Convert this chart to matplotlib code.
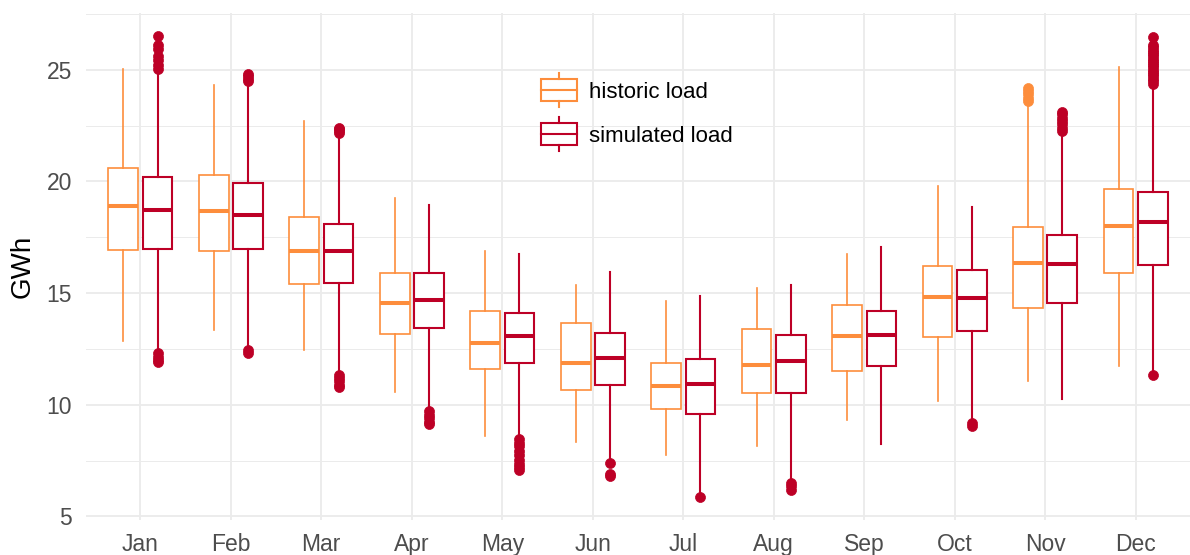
import numpy as np
import matplotlib
matplotlib.use('Agg')
import matplotlib.pyplot as plt
from matplotlib.legend_handler import HandlerBase
from matplotlib.patches import Rectangle
from matplotlib.lines import Line2D

plt.rcParams['font.family'] = ['Liberation Sans', 'DejaVu Sans']

months = ['Jan', 'Feb', 'Mar', 'Apr', 'May', 'Jun', 'Jul', 'Aug', 'Sep', 'Oct', 'Nov', 'Dec']

# historic load box stats (GWh)
hist_hi = [25.05, 24.33, 22.7, 19.24, 16.89, 15.37, 14.65, 15.24, 16.73, 19.81, 23.4, 25.13]
hist_q3 = [20.59, 20.27, 18.41, 15.9, 14.21, 13.65, 11.87, 13.38, 14.48, 16.22, 17.97, 19.65]
hist_med = [18.92, 18.68, 16.87, 14.56, 12.78, 11.87, 10.84, 11.78, 13.1, 14.81, 16.35, 18.02]
hist_q1 = [16.94, 16.89, 15.4, 13.17, 11.59, 10.68, 9.81, 10.52, 11.5, 13.02, 14.32, 15.9]
hist_lo = [12.86, 13.33, 12.46, 10.56, 8.6, 8.33, 7.75, 8.17, 9.32, 10.19, 11.08, 11.75]
hist_out = [[], [], [], [], [], [], [], [], [], [],
            [23.6, 23.75, 23.9, 24.05, 24.2], []]

# simulated load box stats (GWh)
sim_hi = [24.9, 24.3, 22.0, 18.95, 16.73, 15.95, 14.89, 15.37, 17.05, 18.86, 22.1, 24.2]
sim_q3 = [20.19, 19.95, 18.1, 15.9, 14.13, 13.22, 12.03, 13.14, 14.21, 16.03, 17.62, 19.52]
sim_med = [18.73, 18.48, 16.87, 14.68, 13.1, 12.1, 10.95, 11.94, 13.14, 14.76, 16.32, 18.17]
sim_q1 = [16.98, 16.98, 15.46, 13.44, 11.87, 10.9, 9.6, 10.52, 11.75, 13.3, 14.56, 16.27]
sim_lo = [12.4, 12.55, 11.5, 9.8, 8.65, 7.5, 6.0, 6.65, 8.25, 9.35, 10.24, 11.5]
sim_out = [
    [26.5, 26.1, 25.95, 25.6, 25.45, 25.2, 25.05, 12.3, 12.15, 12.0, 11.9],
    [24.5, 24.6, 24.7, 24.8, 12.45, 12.3],
    [22.15, 22.25, 22.35, 22.4, 11.35, 11.2, 11.05, 10.9, 10.8],
    [9.7, 9.55, 9.4, 9.25, 9.15],
    [8.45, 8.3, 8.15, 7.95, 7.75, 7.55, 7.35, 7.2, 7.08],
    [7.4, 6.9, 6.82],
    [5.87],
    [6.5, 6.35, 6.2],
    [],
    [9.2, 9.05],
    [22.25, 22.4, 22.55, 22.7, 22.85, 23.0, 23.1],
    [24.35, 24.5, 24.6, 24.7, 24.8, 24.9, 25.0, 25.1, 25.2, 25.3, 25.4,
     25.5, 25.6, 25.7, 25.8, 25.9, 26.0, 26.1, 26.45, 11.35],
]

HIST_C = '#FD8D3C'
SIM_C = '#BD0026'


def make_stats(lo, q1, med, q3, hi, out):
    return [dict(whislo=a, q1=b, med=c, q3=d, whishi=e, fliers=f)
            for a, b, c, d, e, f in zip(lo, q1, med, q3, hi, out)]


fig = plt.figure(figsize=(11.9, 5.55), dpi=100)
ax = fig.add_axes([0.0723, 0.063, 0.9277, 0.914])

x = np.arange(1, 13)
for stats, off, col, lw in [
        (make_stats(hist_lo, hist_q1, hist_med, hist_q3, hist_hi, hist_out), -0.19, HIST_C, 1.2),
        (make_stats(sim_lo, sim_q1, sim_med, sim_q3, sim_hi, sim_out), 0.19, SIM_C, 1.5)]:
    ax.bxp(stats, positions=x + off, widths=0.33, showcaps=False, patch_artist=True,
           boxprops=dict(facecolor='white', edgecolor=col, linewidth=lw),
           whiskerprops=dict(color=col, linewidth=lw),
           medianprops=dict(color=col, linewidth=2.9, solid_capstyle='butt'),
           flierprops=dict(marker='o', markerfacecolor=col, markeredgecolor=col,
                           markersize=7.2, markeredgewidth=0.5),
           manage_ticks=False, zorder=3)


class BoxHandler(HandlerBase):
    def __init__(self, color):
        super().__init__()
        self.color = color

    def create_artists(self, legend, orig_handle, xdescent, ydescent, width, height, fontsize, trans):
        bh = height * 1.2
        y0 = (height - bh) / 2 - ydescent
        cx = width / 2 - xdescent
        rect = Rectangle((-xdescent, y0), width, bh, facecolor='white',
                         edgecolor=self.color, linewidth=1.5, transform=trans)
        med = Line2D([-xdescent, width - xdescent], [y0 + bh / 2] * 2, color=self.color,
                     linewidth=1.5, transform=trans)
        w1 = Line2D([cx, cx], [y0 + bh, y0 + bh + 0.27 * bh], color=self.color,
                    linewidth=1.5, transform=trans)
        w2 = Line2D([cx, cx], [y0, y0 - 0.27 * bh], color=self.color,
                    linewidth=1.5, transform=trans)
        return [rect, med, w1, w2]


h1 = Rectangle((0, 0), 1, 1)
h2 = Rectangle((0, 0), 1, 1)
ax.legend([h1, h2], ['historic load', 'simulated load'],
          handler_map={h1: BoxHandler(HIST_C), h2: BoxHandler(SIM_C)},
          loc='upper left', bbox_to_anchor=(0.394, 0.905), frameon=False,
          fontsize=16, handlelength=1.6, handleheight=0.9, labelspacing=1.0,
          handletextpad=0.55)

ax.set_xlim(0.4, 12.6)
ax.set_ylim(4.84, 27.55)
ax.set_xticks(x)
ax.set_xticklabels(months)
ax.set_yticks([5, 10, 15, 20, 25])
ax.set_yticks([7.5, 12.5, 17.5, 22.5, 27.5], minor=True)
ax.tick_params(axis='both', which='both', length=0, labelsize=16.5, labelcolor='#4D4D4D')
ax.tick_params(axis='x', pad=9)
ax.tick_params(axis='y', pad=10)
ax.grid(True, which='major', color='#EBEBEB', linewidth=1.3, zorder=0)
ax.grid(True, which='minor', axis='y', color='#EBEBEB', linewidth=0.7, zorder=0)
ax.set_axisbelow(True)
for s in ax.spines.values():
    s.set_visible(False)
ax.set_ylabel('GWh', fontsize=20, labelpad=8)

fig.savefig('out.png', dpi=100)
